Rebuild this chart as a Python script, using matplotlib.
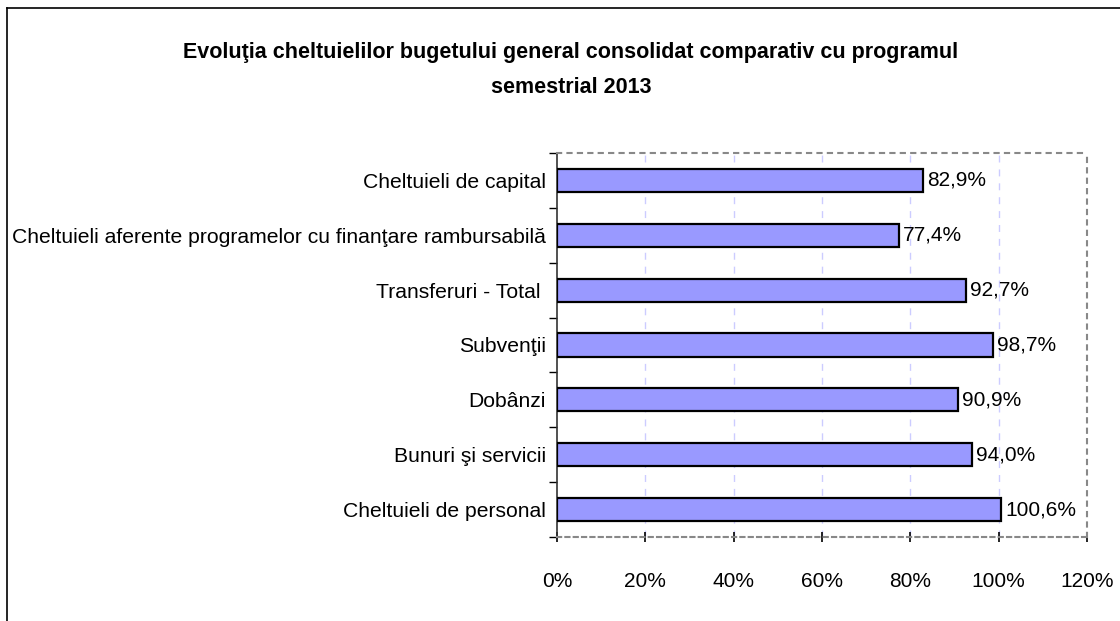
import matplotlib
matplotlib.use("Agg")
import matplotlib.pyplot as plt
from matplotlib.lines import Line2D

categories = [
    "Cheltuieli de capital",
    "Cheltuieli aferente programelor cu finanţare rambursabilă",
    "Transferuri - Total ",
    "Subvenţii",
    "Dobânzi",
    "Bunuri şi servicii",
    "Cheltuieli de personal",
]
values = [82.9, 77.4, 92.7, 98.7, 90.9, 94.0, 100.6]
xticks = [0, 20, 40, 60, 80, 100, 120]
xtick_labels = ["0%", "20%", "40%", "60%", "80%", "100%", "120%"]
title = "Evoluţia cheltuielilor bugetului general consolidat comparativ cu programul\nsemestrial 2013"

plt.rcParams["font.family"] = ["Liberation Sans", "DejaVu Sans"]

fig = plt.figure(figsize=(11.2, 6.21), dpi=100)
ax = fig.add_axes([557/1120, 1-537/621, (1087-557)/1120, (537-153)/621])

n = len(categories)
ypos = list(range(n))[::-1]
ax.barh(ypos, values, height=0.42, color="#9999FF", edgecolor="black", linewidth=1.6, zorder=3)
for y, v in zip(ypos, values):
    ax.text(v + 0.9, y, f"{v:.1f}%".replace(".", ","), va="center", ha="left", fontsize=15)

ax.set_xlim(0, 120)
ax.set_ylim(-0.5, n - 0.5)
ax.set_xticks(xticks)
ax.set_xticklabels(xtick_labels, fontsize=15)
ax.set_yticks(ypos)
ax.set_yticklabels(categories, fontsize=15.2)
ax.tick_params(axis="y", length=0, pad=8)
ax.tick_params(axis="x", direction="inout", length=7, width=1.2, pad=22, color="black")
ax.set_yticks([i - 0.5 for i in range(n + 1)], minor=True)
ax.tick_params(axis="y", which="minor", length=6, direction="out", width=1.0)

for x in xticks[1:-1]:
    ax.axvline(x, color="#CCCCFF", linestyle=(0, (5, 5)), linewidth=1.0, zorder=1)

ax.spines["left"].set_color("#333333")
ax.spines["left"].set_linewidth(1.2)
for s in ["top", "right"]:
    ax.spines[s].set_color("#888888")
    ax.spines[s].set_linestyle((0, (2, 3)))
    ax.spines[s].set_linewidth(1.5)
ax.spines["bottom"].set_color("#888888")
ax.spines["bottom"].set_linestyle((0, (2, 2)))
ax.spines["bottom"].set_linewidth(1.5)

fig.text(571/1120, 1 - 70/621, title, ha="center", va="center", fontsize=15.5,
         fontweight="bold", linespacing=1.85)

fig.add_artist(Line2D([7/1120, 7/1120], [0, 1 - 8/621], transform=fig.transFigure, color="black", linewidth=1.2))
fig.add_artist(Line2D([7/1120, 1], [1 - 8/621, 1 - 8/621], transform=fig.transFigure, color="black", linewidth=1.2))

fig.savefig("out.png", dpi=100)
